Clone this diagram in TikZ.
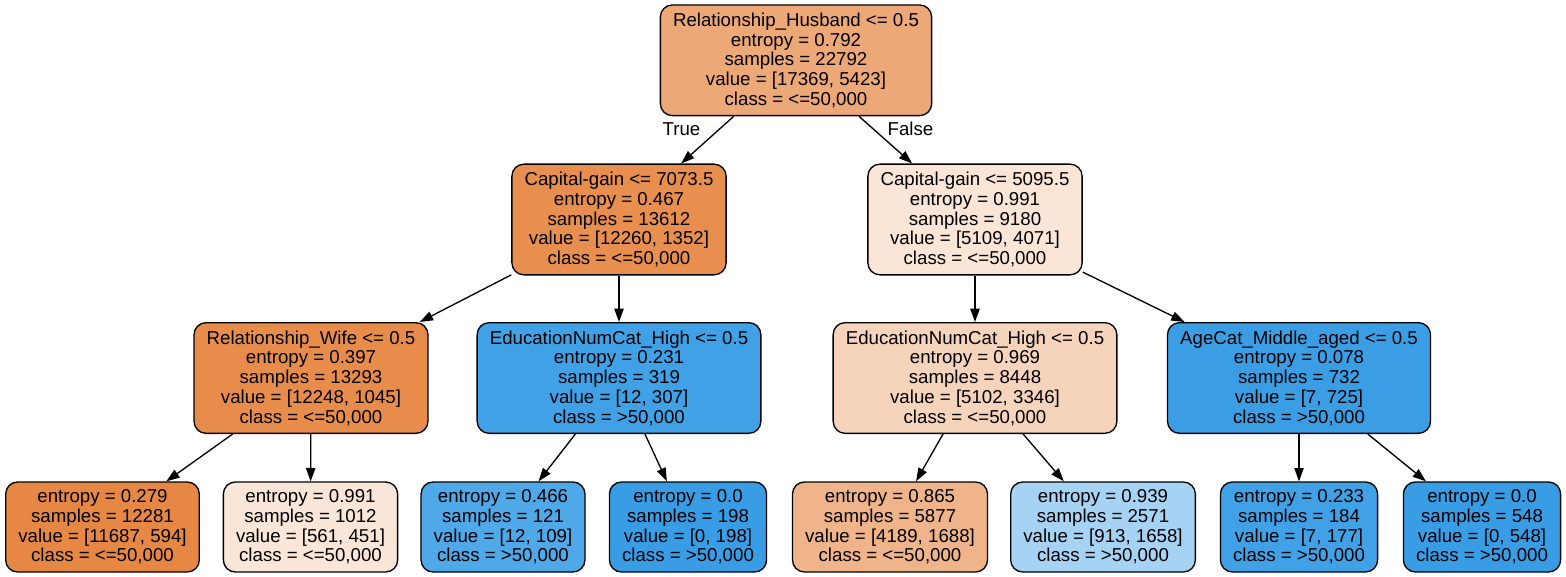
\documentclass[tikz,border=0pt]{standalone}
\usepackage{fontspec}
\setmainfont{Liberation Sans}
\usetikzlibrary{arrows.meta}

\definecolor{cRoot}{RGB}{237,168,119}
\definecolor{cGainL}{RGB}{232,143,79}
\definecolor{cGainR}{RGB}{250,229,215}
\definecolor{cWife}{RGB}{231,140,74}
\definecolor{cEduL}{RGB}{65,161,230}
\definecolor{cEduR}{RGB}{246,212,187}
\definecolor{cAge}{RGB}{59,158,229}
\definecolor{cLeafA}{RGB}{230,135,67}
\definecolor{cLeafB}{RGB}{250,230,216}
\definecolor{cLeafC}{RGB}{79,168,232}
\definecolor{cLeafD}{RGB}{57,157,229}
\definecolor{cLeafE}{RGB}{239,180,137}
\definecolor{cLeafF}{RGB}{166,211,243}
\definecolor{cLeafG}{RGB}{65,161,230}
\definecolor{cLeafH}{RGB}{57,157,229}

\tikzset{every picture/.style={line width=1pt}}
\tikzset{
  treebox/.style={draw=black, rounded corners=9pt, align=center, inner xsep=9.5pt, inner ysep=0pt, font=\fontsize{14}{14.8}\selectfont},
  splitbox/.style={treebox, minimum height=83pt},
  leafbox/.style={treebox, minimum height=67.5pt},
  branchlabel/.style={inner sep=0pt, font=\fontsize{14}{14.8}\selectfont},
  branch/.style={draw=black, -{Triangle[length=10pt,width=7pt]}},
}

\begin{document}
\begin{tikzpicture}[x=0.75pt,y=0.75pt,yscale=-1,xscale=1]
	\useasboundingbox (0,0) rectangle (1566,577);

	%Shape: Rounded Rect - root
	\node [splitbox, fill=cRoot] (husband) at (796,60.3) {Relationship\_Husband <= 0.5\\entropy = 0.792\\samples = 22792\\value = [17369, 5423]\\class = <=50,000};
	%Shape: Rounded Rect - level 1
	\node [splitbox, fill=cGainL] (gainL) at (619,219.5) {Capital-gain <= 7073.5\\entropy = 0.467\\samples = 13612\\value = [12260, 1352]\\class = <=50,000};
	\node [splitbox, fill=cGainR] (gainR) at (975,219.5) {Capital-gain <= 5095.5\\entropy = 0.991\\samples = 9180\\value = [5109, 4071]\\class = <=50,000};
	%Shape: Rounded Rect - level 2
	\node [splitbox, fill=cWife] (wife) at (311,378) {Relationship\_Wife <= 0.5\\entropy = 0.397\\samples = 13293\\value = [12248, 1045]\\class = <=50,000};
	\node [splitbox, fill=cEduL] (eduL) at (619,378) {EducationNumCat\_High <= 0.5\\entropy = 0.231\\samples = 319\\value = [12, 307]\\class = >50,000};
	\node [splitbox, fill=cEduR] (eduR) at (975,378) {EducationNumCat\_High <= 0.5\\entropy = 0.969\\samples = 8448\\value = [5102, 3346]\\class = <=50,000};
	\node [splitbox, fill=cAge] (age) at (1299,378) {AgeCat\_Middle\_aged <= 0.5\\entropy = 0.078\\samples = 732\\value = [7, 725]\\class = >50,000};
	%Shape: Rounded Rect - leaves
	\node [leafbox, fill=cLeafA] (leafA) at (102.5,527) {entropy = 0.279\\samples = 12281\\value = [11687, 594]\\class = <=50,000};
	\node [leafbox, fill=cLeafB] (leafB) at (310.5,527) {entropy = 0.991\\samples = 1012\\value = [561, 451]\\class = <=50,000};
	\node [leafbox, fill=cLeafC] (leafC) at (503,527) {entropy = 0.466\\samples = 121\\value = [12, 109]\\class = >50,000};
	\node [leafbox, fill=cLeafD] (leafD) at (688,527) {entropy = 0.0\\samples = 198\\value = [0, 198]\\class = >50,000};
	\node [leafbox, fill=cLeafE] (leafE) at (890,527) {entropy = 0.865\\samples = 5877\\value = [4189, 1688]\\class = <=50,000};
	\node [leafbox, fill=cLeafF] (leafF) at (1103,527) {entropy = 0.939\\samples = 2571\\value = [913, 1658]\\class = >50,000};
	\node [leafbox, fill=cLeafG] (leafG) at (1299,527) {entropy = 0.233\\samples = 184\\value = [7, 177]\\class = >50,000};
	\node [leafbox, fill=cLeafH] (leafH) at (1482,527) {entropy = 0.0\\samples = 548\\value = [0, 548]\\class = >50,000};

	%Straight Lines - branches
	\draw [branch] (husband) -- (gainL) ;
	\draw [branch] (husband) -- (gainR) ;
	\draw [branch] (gainL) -- (wife) ;
	\draw [branch] (gainL) -- (eduL) ;
	\draw [branch] (gainR) -- (eduR) ;
	\draw [branch] (gainR) -- (age) ;
	\draw [branch] (wife) -- (leafA) ;
	\draw [branch] (wife) -- (leafB) ;
	\draw [branch] (eduL) -- (leafC) ;
	\draw [branch] (eduL) -- (leafD) ;
	\draw [branch] (eduR) -- (leafE) ;
	\draw [branch] (eduR) -- (leafF) ;
	\draw [branch] (age) -- (leafG) ;
	\draw [branch] (age) -- (leafH) ;

	%Text - branch labels
	\node [branchlabel] (lblTrue) at (681.5,129) {True};
	\node [branchlabel] (lblFalse) at (910.5,129) {False};
\end{tikzpicture}
\end{document}
